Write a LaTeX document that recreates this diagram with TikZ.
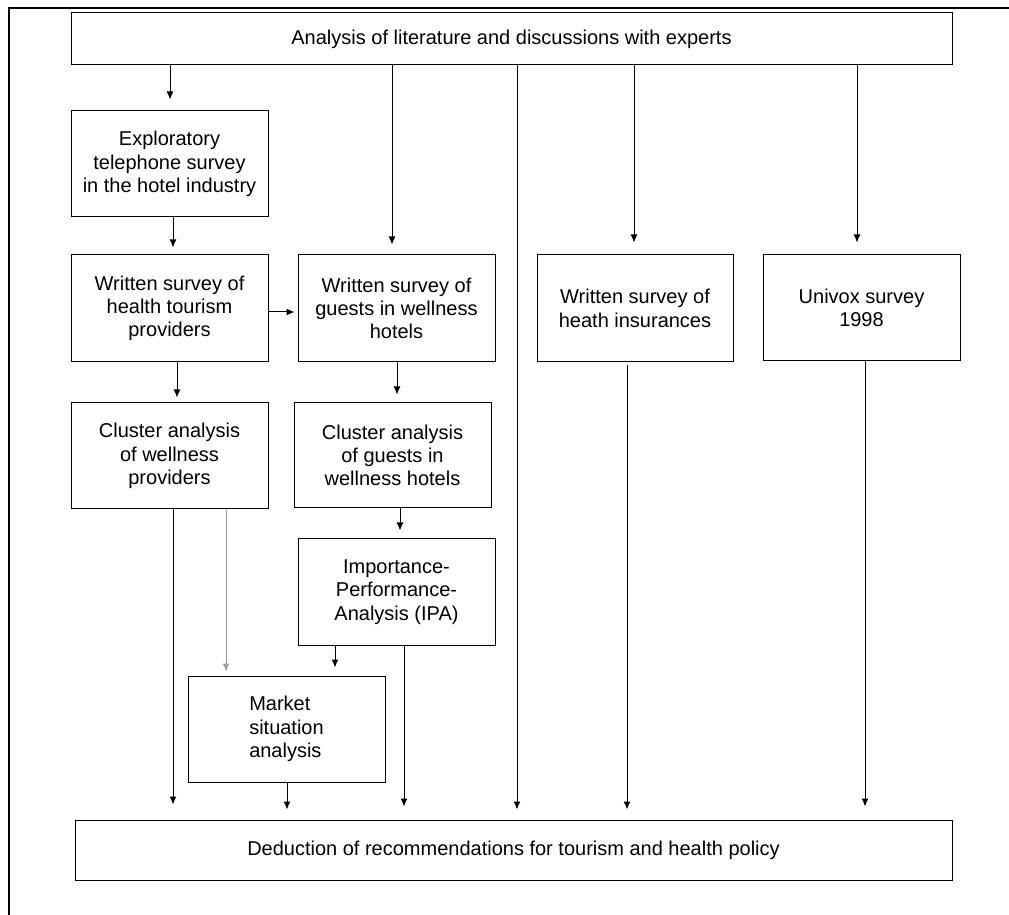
\documentclass[tikz,border=0pt]{standalone}
\usepackage{fontspec}
\setmainfont{Liberation Sans}
\usetikzlibrary{arrows.meta}

\begin{document}
\begin{tikzpicture}[x=0.5pt, y=-0.5pt,
      every node/.append style={font=\fontsize{10}{11.65}\selectfont},
      arr/.style={-{Latex[length=4pt,width=3.5pt]}, line width=0.5pt}]
    \tikzstyle{box} = [draw, line width=0.5pt, align=center, inner sep=0pt,
      minimum width=98.5pt, minimum height=53pt]
    \useasboundingbox (0,0) rectangle (1009,915);
    \draw[line width=1.2pt] (9,915) -- (9,8) -- (1009,8);

    \node[box, minimum width=440.5pt, minimum height=26pt] (top) at (511.5,39)
      {Analysis of literature and discussions with experts};
    \node[box] (explore) at (169.5,164) {Exploratory\\telephone survey\\in the hotel industry};
    \node[box, minimum height=53.5pt] (providers) at (169.5,308.5) {Written survey of\\health tourism\\providers};
    \node[box, minimum height=53.5pt] (guests) at (396.5,308.5) {Written survey of\\guests in wellness\\hotels};
    \node[box, minimum width=98pt, minimum height=53.5pt] (insur) at (635,308.5) {Written survey of\\heath insurances};
    \node[box, minimum height=53pt] (univox) at (861.5,308) {Univox survey\\1998};
    \node[box] (clprov) at (169.5,456) {Cluster analysis\\of wellness\\providers};
    \node[box, minimum height=52.5pt] (clguests) at (392.5,455.5) {Cluster analysis\\of guests in\\wellness hotels};
    \node[box] (ipa) at (396.5,592) {Importance-\\Performance-\\Analysis (IPA)};
    \node[box, align=left] (market) at (286.5,729) {Market\\situation\\analysis};
    \node[box, minimum width=438.5pt, minimum height=30pt] (deduct) at (513.5,850)
      {Deduction of recommendations for tourism and health policy};

    \draw[arr] (top.south -| 170,0) -- ([yshift=5.5pt]explore.north -| 170,0);
    \draw[arr] (top.south -| 392,0) -- ([yshift=5pt]guests.north -| 392,0);
    \draw[arr] (top.south -| 517,0) -- ([yshift=5pt]deduct.north -| 517,0);
    \draw[arr] (top.south -| 634,0) -- ([yshift=6pt]insur.north -| 634,0);
    \draw[arr] (top.south -| 857,0) -- ([yshift=6pt]univox.north -| 857,0);
    \draw[arr] (explore.south -| 173,0) -- ([yshift=3.5pt]providers.north -| 173,0);
    \draw[arr] (providers.east |- 0,312) -- ([xshift=-1.5pt]guests.west |- 0,312);
    \draw[arr] (providers.south -| 177,0) -- ([yshift=2.5pt]clprov.north -| 177,0);
    \draw[arr] (guests.south -| 397,0) -- ([yshift=4pt]clguests.north -| 397,0);
    \draw[arr] (clprov.south -| 173,0) -- ([yshift=7.5pt]deduct.north -| 173,0);
    \draw[arr, gray!75] (clprov.south -| 226,0) -- ([yshift=2pt]market.north -| 226,0);
    \draw[arr] (clguests.south -| 400,0) -- ([yshift=4pt]ipa.north -| 400,0);
    \draw[arr] (ipa.south -| 335,0) -- ([yshift=4pt]market.north -| 335,0);
    \draw[arr] (ipa.south -| 404,0) -- ([yshift=6.5pt]deduct.north -| 404,0);
    \draw[arr] (market.south -| 287,0) -- ([yshift=5pt]deduct.north -| 287,0);
    \draw[arr] ([yshift=-1.5pt]insur.south -| 627,0) -- ([yshift=5pt]deduct.north -| 627,0);
    \draw[arr] (univox.south -| 865,0) -- ([yshift=6.5pt]deduct.north -| 865,0);
\end{tikzpicture}
\end{document}
